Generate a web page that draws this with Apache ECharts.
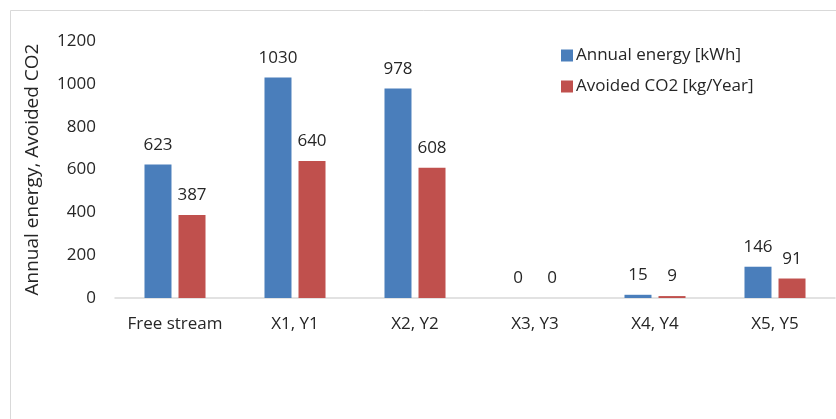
<!DOCTYPE html>
<html>
<head>
<meta charset="utf-8">
<script src="https://cdn.jsdelivr.net/npm/echarts@6/dist/echarts.min.js"></script>
<style>
  html, body { margin: 0; padding: 0; background: #fff; }
  #chart { width: 836px; height: 419px; }
</style>
</head>
<body>
<div id="chart"></div>
<script>
// Locations compared
const categories = ['Free stream', 'X1, Y1', 'X2, Y2', 'X3, Y3', 'X4, Y4', 'X5, Y5'];
// Annual energy yield per location [kWh]
const annualEnergy = [623, 1030, 978, 0, 15, 146];
// CO2 emissions avoided per location [kg/Year]
const avoidedCO2 = [387, 640, 608, 0, 9, 91];
// Value axis ticks
const yTicks = [0, 200, 400, 600, 800, 1000, 1200];

const FONT = '"Open Sans", "Noto Sans", sans-serif';
const TEXT = '#262626';
const FS = 17;

const chart = echarts.init(document.getElementById('chart'), null, { renderer: 'canvas' });

chart.setOption({
  animation: false,
  backgroundColor: '#ffffff',
  textStyle: { fontFamily: FONT, color: TEXT },
  graphic: [{
    type: 'rect',
    shape: { x: 10.5, y: 10.5, width: 1000, height: 1000 },
    style: { fill: 'none', stroke: '#d9d9d9', lineWidth: 1 },
    silent: true
  }],
  legend: {
    orient: 'vertical',
    left: 556,
    top: 42,
    itemWidth: 12,
    itemHeight: 12,
    itemGap: 14,
    icon: 'rect',
    textStyle: { fontFamily: FONT, fontSize: FS, color: TEXT, padding: [0, 0, 0, -2] },
    data: ['Annual energy [kWh]', 'Avoided CO2 [kg/Year]']
  },
  grid: { left: 115, right: 1, top: 41, bottom: 121, containLabel: false },
  xAxis: {
    type: 'category',
    data: categories,
    axisLine: { lineStyle: { color: '#d9d9d9', width: 1.5 } },
    axisTick: { show: false },
    axisLabel: { interval: 0, fontFamily: FONT, fontSize: FS, color: TEXT, margin: 18 }
  },
  yAxis: {
    type: 'value',
    min: yTicks[0],
    max: yTicks[yTicks.length - 1],
    interval: yTicks[1] - yTicks[0],
    name: 'Annual energy, Avoided CO2',
    nameLocation: 'middle',
    nameGap: 73,
    nameTextStyle: { fontFamily: FONT, fontSize: 19, color: TEXT },
    axisLine: { show: false },
    axisTick: { show: false },
    splitLine: { show: false },
    axisLabel: {
      fontFamily: FONT, fontSize: FS, color: TEXT, margin: 19,
      formatter: (v) => String(v)
    }
  },
  series: [
    {
      name: 'Annual energy [kWh]',
      type: 'bar',
      data: annualEnergy,
      barWidth: 27,
      barGap: '26%',
      itemStyle: { color: '#4a7ebb' },
      label: { show: true, position: 'top', distance: 11, fontFamily: FONT, fontSize: FS, color: TEXT }
    },
    {
      name: 'Avoided CO2 [kg/Year]',
      type: 'bar',
      data: avoidedCO2,
      barWidth: 27,
      itemStyle: { color: '#c0504d' },
      label: { show: true, position: 'top', distance: 11, fontFamily: FONT, fontSize: FS, color: TEXT }
    }
  ]
});
</script>
</body>
</html>
